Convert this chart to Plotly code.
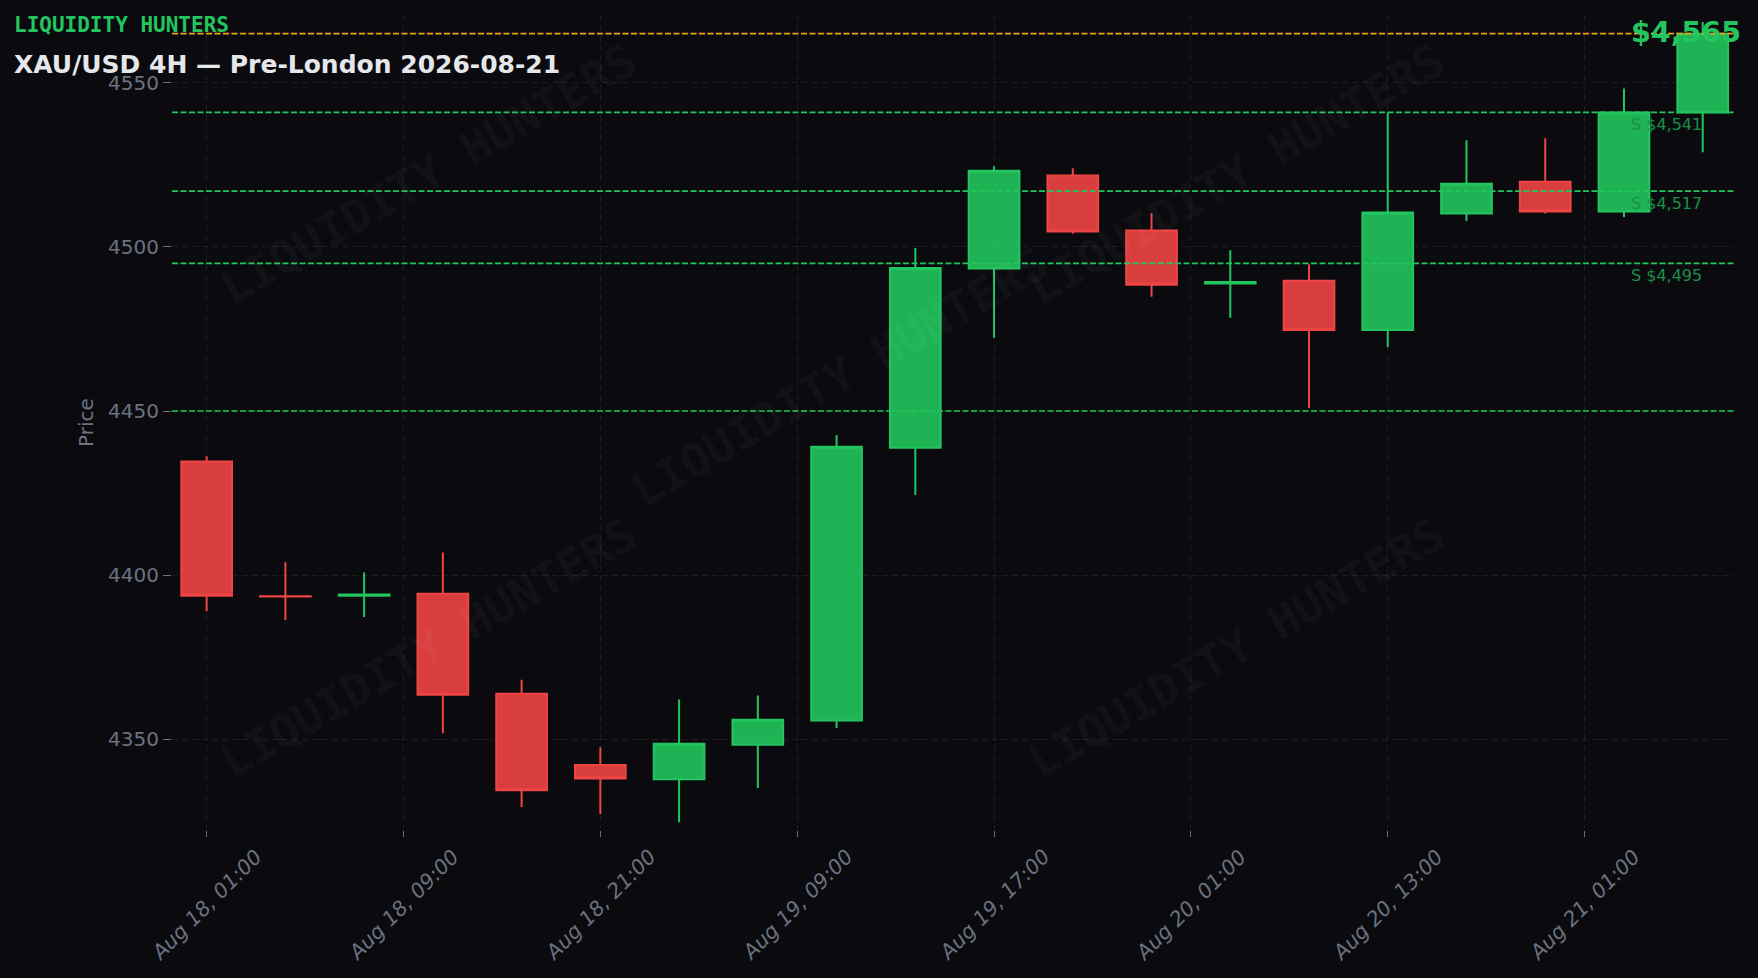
import plotly.graph_objects as go

# ---- data -------------------------------------------------------------
opens  = [4434.6, 4393.55, 4393.7, 4394.3, 4363.8, 4342.1, 4337.8, 4348.3, 4355.7, 4438.8,
          4493.4, 4521.8, 4505.0, 4488.9, 4489.7, 4474.7, 4510.2, 4519.9, 4510.8, 4541.0]
highs  = [4436.2, 4403.9, 4400.8, 4406.9, 4368.1, 4347.5, 4362.1, 4363.3, 4442.6, 4499.7,
          4524.6, 4524.0, 4510.3, 4499.0, 4494.7, 4541.0, 4532.5, 4533.1, 4548.3, 4568.6]
lows   = [4389.0, 4386.2, 4387.2, 4351.8, 4329.3, 4327.2, 4324.7, 4335.1, 4353.4, 4424.4,
          4472.3, 4504.0, 4484.8, 4478.4, 4450.9, 4469.5, 4507.9, 4510.2, 4509.1, 4528.9]
closes = [4393.7, 4393.45, 4394.1, 4363.5, 4334.4, 4338.0, 4348.6, 4355.9, 4439.1, 4493.6,
          4523.2, 4504.7, 4488.5, 4489.3, 4474.7, 4510.5, 4519.3, 4510.8, 4541.0, 4565.0]

tick_positions = [0, 2.5, 5, 7.5, 10, 12.5, 15, 17.5]
tick_labels = ["Aug 18, 01:00", "Aug 18, 09:00", "Aug 18, 21:00", "Aug 19, 09:00",
               "Aug 19, 17:00", "Aug 20, 01:00", "Aug 20, 13:00", "Aug 21, 01:00"]

support_levels = [4541, 4517, 4495]
extra_levels = [4450]
current_price = 4565

title_text = "XAU/USD 4H — Pre-London 2026-08-21"
brand_text = "LIQUIDITY HUNTERS"

# ---- styles -----------------------------------------------------------
BG = "#0b0b0f"
GRID = "rgba(255,255,255,0.075)"
GRAY = "#6b7280"
GREEN = "#22c55e"
RED = "#ef4444"
ORANGE = "#f59e0b"
LEVEL_TXT = "#1a8f47"
DASH = "6px,2.5px"

x_idx = list(range(len(opens)))

fig = go.Figure()
fig.add_trace(go.Candlestick(
    x=x_idx, open=opens, high=highs, low=lows, close=closes,
    increasing=dict(line=dict(color=GREEN, width=2), fillcolor="rgba(34,197,94,0.9)"),
    decreasing=dict(line=dict(color=RED, width=2), fillcolor="rgba(239,68,68,0.9)"),
    hoverinfo="skip",
))

for lv in support_levels + extra_levels:
    fig.add_shape(type="line", xref="paper", x0=0, x1=1, yref="y", y0=lv, y1=lv,
                  line=dict(color=GREEN, width=1.7, dash=DASH))
fig.add_shape(type="line", xref="paper", x0=0, x1=1, yref="y", y0=current_price, y1=current_price,
              line=dict(color=ORANGE, width=1.8, dash=DASH))

annotations = []
for lv in support_levels:
    annotations.append(dict(x=0.932, xref="paper", xanchor="left", y=lv, yref="y", yanchor="top",
                            yshift=-1, text=f"S ${lv:,}", showarrow=False,
                            font=dict(family="DejaVu Sans", size=16, color=LEVEL_TXT)))
annotations.append(dict(x=0.932, xref="paper", xanchor="left", y=current_price, yref="y",
                        yanchor="middle", yshift=1, text=f"${current_price:,}", showarrow=False,
                        font=dict(family="DejaVu Sans", size=28.5, color=GREEN, weight="bold")))

# watermarks
wm_pos = [(0.164, 0.805), (0.681, 0.805), (0.427, 0.556), (0.164, 0.223), (0.681, 0.223)]
for wx, wy in wm_pos:
    annotations.append(dict(x=wx, y=wy, xref="paper", yref="paper", text=brand_text,
                            xanchor="center", yanchor="middle",
                            showarrow=False, textangle=-30,
                            font=dict(family="DejaVu Sans Mono", size=46,
                                      color="rgba(255,255,255,0.045)", weight="bold")))

# x tick labels (centered, rotated)
for tp, tl in zip(tick_positions, tick_labels):
    annotations.append(dict(x=tp, xref="x", y=-0.092, yref="paper", text=tl, showarrow=False,
                            textangle=-45, xanchor="center", yanchor="middle",
                            font=dict(family="DejaVu Sans", size=20.5, color=GRAY, style="italic")))

annotations.append(dict(x=-0.1021, y=0.988, xref="paper", yref="paper", xanchor="left",
                        yanchor="middle", text=brand_text, showarrow=False,
                        font=dict(family="DejaVu Sans Mono", size=21, color=GREEN, weight="bold")))
annotations.append(dict(x=-0.1021, y=0.9387, xref="paper", yref="paper", xanchor="left",
                        yanchor="middle", text=f"<b>{title_text}</b>", showarrow=False,
                        font=dict(family="DejaVu Sans", size=25, color="#e5e7eb")))

fig.update_layout(
    width=1758, height=978,
    paper_bgcolor=BG, plot_bgcolor=BG,
    margin=dict(l=172, r=23, t=15, b=148),
    showlegend=False,
    boxgap=0.08,
    font=dict(family="DejaVu Sans", color=GRAY),
    annotations=annotations,
    xaxis=dict(range=[-0.44, 19.41], tickmode="array", tickvals=tick_positions,
               showticklabels=False, ticks="outside", ticklen=6, tickcolor=GRAY,
               showgrid=True, gridcolor=GRID, griddash="6px,4px", gridwidth=1,
               zeroline=False, showline=False, rangeslider=dict(visible=False)),
    yaxis=dict(range=[4322.3, 4570.7], tick0=4350, dtick=50, ticks="outside", ticklen=8,
               tickcolor=GRAY, tickfont=dict(size=20, color=GRAY),
               showgrid=True, gridcolor=GRID, griddash="6px,4px", gridwidth=1,
               zeroline=False, showline=False,
               title=dict(text="Price", font=dict(size=20, color=GRAY), standoff=9)),
)

fig.write_html("out.html", config={"displayModeBar": False},
               post_script="document.body.style.margin='0';document.body.style.overflow='hidden';")
